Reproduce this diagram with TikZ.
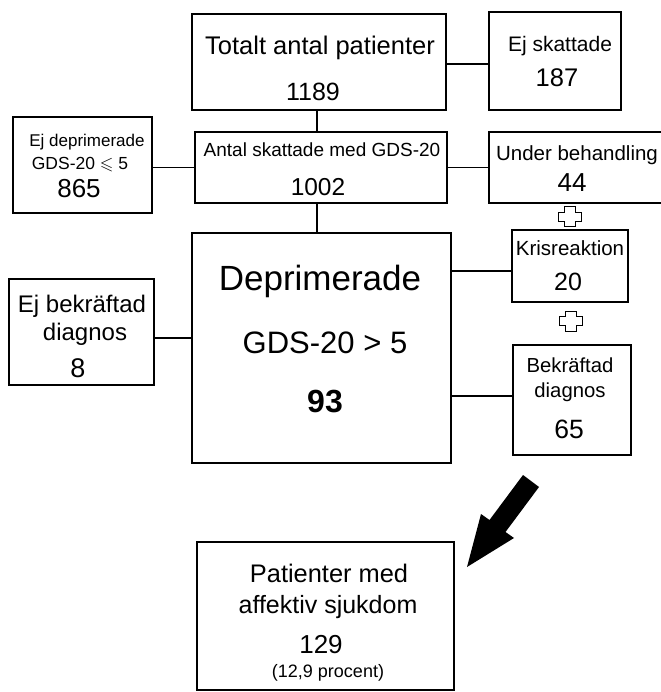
\documentclass[tikz,border=0pt]{standalone}
\usepackage{amssymb}
\usepackage{fontspec}
\setmainfont{Liberation Sans}
\usetikzlibrary{fit}
\newcommand{\fsz}[1]{\fontsize{#1}{#1}\selectfont}

\begin{document}
\begin{tikzpicture}[
  x=1pt, y=-1pt,
  box/.style={draw, line width=1.6pt, inner sep=0pt},
  txt/.style={anchor=base, inner sep=0pt},
  link/.style={draw, line width=1.5pt},
  plus/.pic={
    \draw[line width=1pt, fill=white] (-5.5,-10) -- (5.5,-10) -- (5.5,-4.5) -- (11.5,-4.5)
      -- (11.5,4.5) -- (5.5,4.5) -- (5.5,10) -- (-5.5,10) -- (-5.5,4.5)
      -- (-11.5,4.5) -- (-11.5,-4.5) -- (-5.5,-4.5) -- cycle;
  }
]
\useasboundingbox (0,0) rectangle (660,692);

% boxes
\node[box, fit={(192,14) (446,110)}] (total) {};
\node[box, fit={(489,12) (621,110)}] (skattade) {};
\node[box, fit={(13,117) (152,213)}] (ejdep) {};
\node[box, fit={(195,132) (447,203)}] (antal) {};
\node[box, fit={(489,132) (668,203)}] (under) {};
\node[box, fit={(192,233) (451,463)}] (deprim) {};
\node[box, fit={(9,279) (154,385)}] (ejbekr) {};
\node[box, fit={(512,230) (628,302)}] (kris) {};
\node[box, fit={(513,345) (631,455)}] (bekr) {};
\node[box, fit={(197,542) (454,690)}] (affektiv) {};

% texts
\node[txt, font=\fsz{25.5}] (total-a) at (320,55) {Totalt antal patienter};
\node[txt, font=\fsz{25}] (total-b) at (313,101) {1189};

\node[txt, font=\fsz{21}] (skattade-a) at (560,52) {Ej skattade};
\node[txt, font=\fsz{25.5}] (skattade-b) at (557,87) {187};

\node[txt, font=\fsz{17}] (ejdep-a) at (87,147) {Ej deprimerade};
\node[txt, font=\fsz{17.5}] (ejdep-b) at (80,170) {GDS-20 $\leqslant$ 5};
\node[txt, font=\fsz{26}] (ejdep-c) at (79,198) {865};

\node[txt, font=\fsz{19}] (antal-a) at (322,157) {Antal skattade med GDS-20};
\node[txt, font=\fsz{24.5}] (antal-b) at (318,196) {1002};

\node[txt, font=\fsz{20.5}] (under-a) at (577,161) {Under behandling};
\node[txt, font=\fsz{26}] (under-b) at (572,192) {44};

\node[txt, font=\fsz{35}] (deprim-a) at (320,290) {Deprimerade};
\node[txt, font=\fsz{31}] (deprim-b) at (325,353) {GDS-20 > 5};
\node[txt, font=\fsz{32}\bfseries] (deprim-c) at (325,412) {93};

\node[txt, font=\fsz{24}] (ejbekr-a) at (82,312) {Ej bekräftad};
\node[txt, font=\fsz{24}] (ejbekr-b) at (85,340) {diagnos};
\node[txt, font=\fsz{27}] (ejbekr-c) at (78,377) {8};

\node[txt, font=\fsz{20.5}] (kris-a) at (570,255) {Krisreaktion};
\node[txt, font=\fsz{25}] (kris-b) at (568,290) {20};

\node[txt, font=\fsz{20.3}] (bekr-a) at (570,372) {Bekräftad};
\node[txt, font=\fsz{20.3}] (bekr-b) at (570,397) {diagnos};
\node[txt, font=\fsz{26.5}] (bekr-c) at (569,438) {65};

\node[txt, font=\fsz{25.4}] (affektiv-a) at (329,582) {Patienter med};
\node[txt, font=\fsz{25}] (affektiv-b) at (328,613) {affektiv sjukdom};
\node[txt, font=\fsz{26}] (affektiv-c) at (321,653) {129};
\node[txt, font=\fsz{18}] (affektiv-d) at (328,677) {(12,9 procent)};

% connectors
\draw[link] ([yshift=-2pt]total.east) -- ([yshift=-2pt]total.east -| skattade.west);
\draw[link] ([xshift=-2pt]total.south) -- ([xshift=-2pt]total.south |- antal.north);
\draw[link] (ejdep.east |- antal.west) -- (antal.west);
\draw[link] (antal.east) -- (antal.east -| under.west);
\draw[link] ([xshift=-4pt]antal.south) -- ([xshift=-4pt]antal.south |- deprim.north);
\draw[link] ([yshift=-6pt]ejbekr.east) -- ([yshift=-6pt]ejbekr.east -| deprim.west);
\draw[link] ([yshift=-5pt]kris.west -| deprim.east) -- ([yshift=-5pt]kris.west);
\draw[link] ([yshift=4pt]bekr.west -| deprim.east) -- ([yshift=4pt]bekr.west);

% plus signs
\pic at (570,217) {plus};
\pic at (571,321) {plus};

% big arrow
\fill (523,475) -- (539,487) -- (505.5,532) -- (514,538) -- (467,567)
  -- (481,514) -- (489.5,520) -- cycle;
\end{tikzpicture}
\end{document}
